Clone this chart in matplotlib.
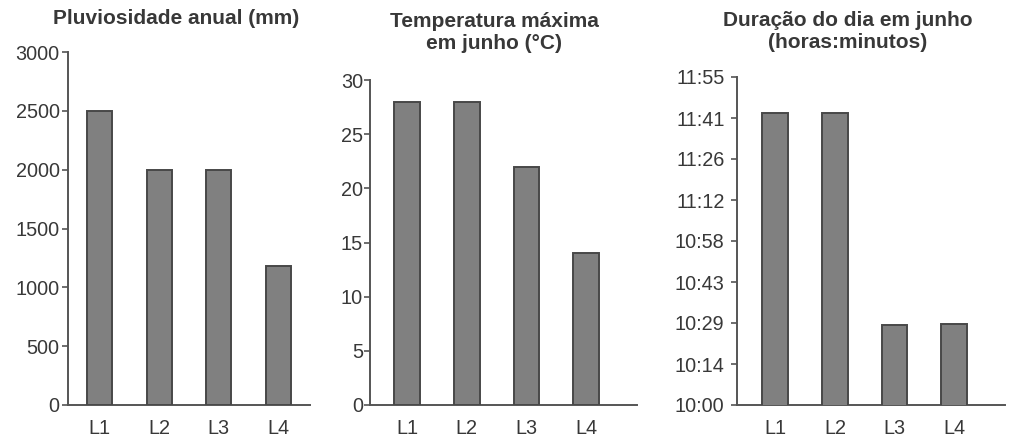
import matplotlib
matplotlib.use("Agg")
import matplotlib.pyplot as plt

plt.rcParams["font.family"] = ["Liberation Sans", "DejaVu Sans"]

# Localities
places = ["L1", "L2", "L3", "L4"]

# Annual rainfall (mm)
rain_mm = [2500, 2000, 2000, 1180]
rain_ticks = [0, 500, 1000, 1500, 2000, 2500, 3000]

# Maximum temperature in June (°C)
temp_c = [28, 28, 22, 14]
temp_ticks = [0, 5, 10, 15, 20, 25, 30]

# Day length in June, in minutes
day_min = [702.5, 702.5, 627.9, 628.4]
day_tick_min = [600, 614.375, 628.75, 643.125, 657.5, 671.875, 686.25, 700.625, 715]
day_tick_labels = ["10:00", "10:14", "10:29", "10:43", "10:58",
                   "11:12", "11:26", "11:41", "11:55"]

W, H = 1026, 437
fig = plt.figure(figsize=(W / 100, H / 100), dpi=100)

TXT = "#383838"
AX = "#555555"
BAR = "#808080"
EDGE = "#484848"


def px_axes(left, right, top, bottom):
    return fig.add_axes([left / W, 1 - bottom / H, (right - left) / W, (bottom - top) / H])


def style(ax, xlim, ypad):
    ax.set_xlim(*xlim)
    for s in ("top", "right"):
        ax.spines[s].set_visible(False)
    for s in ("left", "bottom"):
        ax.spines[s].set_color(AX)
        ax.spines[s].set_linewidth(1.4)
    ax.tick_params(axis="y", length=4, width=1.2, color=AX, pad=ypad,
                   labelsize=14.3, labelcolor=TXT)
    ax.tick_params(axis="x", length=0, pad=10, labelsize=14.3, labelcolor=TXT)
    ax.set_xticks(range(len(places)))
    ax.set_xticklabels(places)


def bars(ax, values, width):
    ax.bar(range(len(values)), values, width=width, color=BAR,
           edgecolor=EDGE, linewidth=1.4, zorder=3)


# Rainfall
ax1 = px_axes(68, 310, 52, 405)
bars(ax1, rain_mm, 0.42)
ax1.set_ylim(0, 3000)
ax1.set_yticks(rain_ticks)
style(ax1, (-0.53, 3.53), 2)

# Temperature
ax2 = px_axes(370, 637, 80, 405)
bars(ax2, temp_c, 0.43)
ax2.set_ylim(0, 30)
ax2.set_yticks(temp_ticks)
style(ax2, (-0.62, 3.85), 1)

# Day length
ax3 = px_axes(737, 1005, 77, 405)
bars(ax3, day_min, 0.43)
ax3.set_ylim(600, 715)
ax3.set_yticks(day_tick_min)
ax3.set_yticklabels(day_tick_labels)
style(ax3, (-0.64, 3.85), 5)

title_kw = dict(ha="center", va="center", fontsize=15, fontweight="bold",
                color=TXT, linespacing=1.15)
fig.text(176 / W, 1 - 19 / H, "Pluviosidade anual (mm)", **title_kw)
fig.text(494 / W, 1 - 32.5 / H, "Temperatura máxima\nem junho (°C)", **title_kw)
fig.text(847.5 / W, 1 - 31.5 / H, "Duração do dia em junho\n(horas:minutos)", **title_kw)

fig.savefig("out.png", dpi=100)
